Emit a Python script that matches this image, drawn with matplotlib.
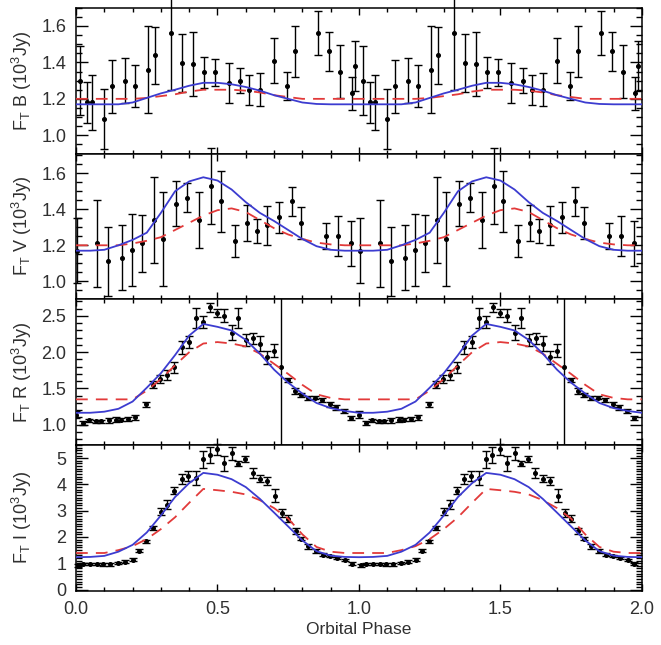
import numpy as np
import matplotlib
matplotlib.use("Agg")
from matplotlib import pyplot as plt
from matplotlib.ticker import MultipleLocator

plt.rcParams['font.family'] = ['Liberation Sans', 'DejaVu Sans']
plt.rcParams['mathtext.fontset'] = 'custom'
plt.rcParams['mathtext.rm'] = 'Liberation Sans'

TEXT = '#303030'
BLUE = '#3c3cd0'
RED = '#e23a3a'

# phase-folded photometry, one orbital cycle (repeated for the second cycle)
b_phase = [0.013, 0.039, 0.057, 0.099, 0.127, 0.174, 0.209, 0.256, 0.280, 0.336,
           0.374, 0.413, 0.451, 0.490, 0.539, 0.580, 0.613, 0.649, 0.700, 0.745,
           0.774, 0.856, 0.895, 0.933, 0.975, 0.987]
b_flux = [1.30, 1.18, 1.18, 1.09, 1.27, 1.30, 1.27, 1.36, 1.44, 1.56,
          1.395, 1.39, 1.345, 1.345, 1.285, 1.30, 1.25, 1.25, 1.41, 1.27,
          1.46, 1.56, 1.46, 1.35, 1.23, 1.38]
b_err = [0.19, 0.115, 0.15, 0.165, 0.145, 0.125, 0.117, 0.24, 0.156, 0.31,
         0.16, 0.176, 0.083, 0.075, 0.11, 0.067, 0.083, 0.09, 0.124, 0.078,
         0.142, 0.12, 0.107, 0.145, 0.09, 0.135]

v_phase = [0.005, 0.073, 0.114, 0.164, 0.197, 0.232, 0.277, 0.309, 0.353, 0.393,
           0.436, 0.477, 0.511, 0.562, 0.606, 0.638, 0.674, 0.718, 0.765, 0.795,
           0.884, 0.925, 0.972]
v_flux = [1.17, 1.21, 1.11, 1.13, 1.175, 1.21, 1.34, 1.235, 1.43, 1.465,
          1.34, 1.53, 1.445, 1.225, 1.325, 1.28, 1.31, 1.355, 1.445, 1.325,
          1.25, 1.25, 1.21]
v_err = [0.18, 0.24, 0.19, 0.18, 0.20, 0.16, 0.24, 0.26, 0.125, 0.08,
         0.155, 0.21, 0.17, 0.09, 0.10, 0.065, 0.11, 0.087, 0.08, 0.09,
         0.072, 0.11, 0.125]

r_phase = [0.000, 0.025, 0.045, 0.070, 0.090, 0.115, 0.140, 0.160, 0.185, 0.210,
           0.247, 0.273, 0.297, 0.323, 0.347, 0.373, 0.400, 0.425, 0.450, 0.474,
           0.500, 0.524, 0.550, 0.574, 0.600, 0.625, 0.650, 0.675, 0.700, 0.725,
           0.750, 0.774, 0.797, 0.820, 0.845, 0.870, 0.897, 0.920, 0.947, 0.972]
r_flux = [1.14, 1.02, 1.06, 1.05, 1.05, 1.06, 1.07, 1.07, 1.08, 1.10,
          1.28, 1.55, 1.63, 1.69, 1.79, 2.07, 2.14, 2.47, 2.42, 2.62,
          2.54, 2.50, 2.27, 2.47, 2.17, 2.19, 2.12, 1.93, 2.02, 1.79,
          1.62, 1.46, 1.41, 1.37, 1.37, 1.34, 1.28, 1.24, 1.19, 1.09]
r_err = [0.05, 0.03, 0.02, 0.02, 0.02, 0.03, 0.03, 0.02, 0.03, 0.04,
         0.04, 0.05, 0.06, 0.07, 0.07, 0.09, 0.08, 0.14, 0.08, 0.06,
         0.05, 0.09, 0.10, 0.14, 0.08, 0.08, 0.10, 0.09, 0.09, 1.50,
         0.03, 0.04, 0.03, 0.03, 0.02, 0.03, 0.03, 0.03, 0.03, 0.03]

i_phase = [0.008, 0.026, 0.050, 0.073, 0.097, 0.120, 0.150, 0.173, 0.200, 0.224,
           0.247, 0.273, 0.299, 0.323, 0.347, 0.373, 0.397, 0.423, 0.448, 0.472,
           0.498, 0.523, 0.550, 0.574, 0.598, 0.624, 0.650, 0.676, 0.703, 0.727,
           0.750, 0.776, 0.797, 0.820, 0.848, 0.874, 0.897, 0.923, 0.950, 0.974]
i_flux = [0.93, 0.96, 0.98, 0.98, 0.96, 0.96, 1.02, 1.06, 1.14, 1.48,
          1.83, 2.35, 2.97, 3.22, 3.76, 4.19, 4.34, 4.25, 4.96, 5.12,
          5.34, 4.81, 5.19, 4.79, 4.96, 4.44, 4.22, 4.13, 3.57, 2.92,
          2.70, 2.23, 1.93, 1.64, 1.46, 1.33, 1.27, 1.21, 1.11, 0.98]
i_err = [0.06, 0.04, 0.04, 0.04, 0.05, 0.05, 0.04, 0.05, 0.06, 0.07,
         0.07, 0.08, 0.12, 0.17, 0.14, 0.19, 0.19, 0.28, 0.32, 0.30,
         0.20, 0.28, 0.25, 0.10, 0.11, 0.20, 0.13, 0.17, 0.24, 0.15,
         0.12, 0.12, 0.06, 0.08, 0.07, 0.05, 0.04, 0.04, 0.04, 0.05]

# model light curves sampled over one cycle
model_phase = [0.00, 0.05, 0.10, 0.15, 0.20, 0.25, 0.30, 0.35, 0.40, 0.45,
               0.50, 0.55, 0.60, 0.65, 0.70, 0.75, 0.80, 0.85, 0.90, 0.95]
b_model_blue = [1.17, 1.17, 1.17, 1.17, 1.18, 1.205, 1.23, 1.25, 1.272, 1.288,
                1.288, 1.28, 1.265, 1.245, 1.22, 1.20, 1.18, 1.172, 1.17, 1.17]
b_model_red = [1.20, 1.20, 1.20, 1.20, 1.20, 1.205, 1.215, 1.225, 1.24, 1.25,
               1.25, 1.25, 1.245, 1.235, 1.22, 1.21, 1.20, 1.20, 1.20, 1.20]
v_model_blue = [1.17, 1.17, 1.175, 1.20, 1.23, 1.27, 1.38, 1.50, 1.555, 1.578,
                1.56, 1.51, 1.44, 1.38, 1.335, 1.285, 1.235, 1.195, 1.175, 1.17]
v_model_red = [1.20, 1.20, 1.20, 1.20, 1.21, 1.225, 1.245, 1.285, 1.325, 1.365,
               1.395, 1.405, 1.385, 1.34, 1.295, 1.26, 1.235, 1.215, 1.205, 1.20]
r_model_blue = [1.165, 1.165, 1.18, 1.22, 1.32, 1.51, 1.71, 1.96, 2.23, 2.39,
                2.35, 2.30, 2.17, 1.98, 1.76, 1.58, 1.43, 1.30, 1.23, 1.19]
r_model_red = [1.35, 1.35, 1.35, 1.35, 1.35, 1.47, 1.63, 1.82, 2.00, 2.12,
               2.14, 2.12, 2.08, 1.98, 1.84, 1.70, 1.55, 1.42, 1.37, 1.35]
i_model_blue = [1.23, 1.24, 1.28, 1.44, 1.70, 2.17, 2.82, 3.52, 4.05, 4.44,
                4.37, 4.20, 3.90, 3.45, 2.93, 2.40, 1.87, 1.46, 1.29, 1.24]
i_model_red = [1.39, 1.39, 1.39, 1.50, 1.65, 1.92, 2.30, 2.75, 3.30, 3.83,
               3.78, 3.72, 3.62, 3.40, 3.10, 2.70, 2.10, 1.62, 1.44, 1.39]


def two_cycles(phase, values):
    phase = np.asarray(phase)
    values = np.asarray(values)
    return np.concatenate([phase, phase + 1]), np.concatenate([values, values])


def model_curve(values):
    x, y = two_cycles(model_phase, values)
    # close the curve at phase 2.0
    return np.append(x, 2.0), np.append(y, values[0])


def draw_panel(ax, phase, flux, err, blue, red, clip=False):
    x, y = two_cycles(phase, flux)
    _, e = two_cycles(phase, err)
    eb = ax.errorbar(x, y, yerr=e, fmt='o', ms=2.6, color='black', ecolor='black',
                     elinewidth=1.0, capsize=2.6, capthick=1.0, zorder=2)
    for art in eb.lines[0:1] + tuple(eb.lines[1]) + tuple(eb.lines[2]):
        art.set_clip_on(clip)
    mx, my = model_curve(red)
    ax.plot(mx, my, color=RED, lw=1.3, dashes=(6.5, 4.5), zorder=3)
    mx, my = model_curve(blue)
    ax.plot(mx, my, color=BLUE, lw=1.3, zorder=4)


fig, axes = plt.subplots(4, 1, sharex=True, figsize=(6.61, 6.45), dpi=100)
fig.subplots_adjust(left=0.115, right=0.971, bottom=0.084, top=0.988, hspace=0)

panels = [
    (b_phase, b_flux, b_err, b_model_blue, b_model_red, 'B', (0.9, 1.7), 0.2, 0.05, False),
    (v_phase, v_flux, v_err, v_model_blue, v_model_red, 'V', (0.9, 1.71), 0.2, 0.05, False),
    (r_phase, r_flux, r_err, r_model_blue, r_model_red, 'R', (0.72, 2.73), 0.5, 0.1, True),
    (i_phase, i_flux, i_err, i_model_blue, i_model_red, 'I', (-0.05, 5.5), 1.0, 0.1, False),
]

for ax, (ph, fl, er, blue, red, band, ylim, major, minor, clip) in zip(axes, panels):
    draw_panel(ax, ph, fl, er, blue, red, clip=clip)
    ax.set_ylim(*ylim)
    ax.yaxis.set_major_locator(MultipleLocator(major))
    ax.yaxis.set_minor_locator(MultipleLocator(minor))
    if major < 1:
        ax.yaxis.set_major_formatter(plt.FormatStrFormatter('%.1f'))
    else:
        ax.yaxis.set_major_formatter(plt.FormatStrFormatter('%d'))
    ax.set_ylabel(r'F$_\mathregular{T}$ ' + band + r' (10$^\mathregular{3}$Jy)',
                  fontsize=13, color=TEXT)
    ax.yaxis.set_label_coords(-0.075, 0.5)
    ax.tick_params(which='both', direction='in', top=True, right=True,
                   labelsize=13, labelcolor=TEXT, width=1.0)
    ax.tick_params(axis='y', which='major', length=8.5, pad=7)
    ax.tick_params(axis='y', which='minor', length=4.5)
    ax.tick_params(axis='x', which='major', length=5, pad=7)
    ax.tick_params(axis='x', which='minor', length=2.8)
    for sp in ax.spines.values():
        sp.set_linewidth(1.1)

axes[-1].set_xlim(0, 2)
axes[-1].xaxis.set_major_locator(MultipleLocator(0.5))
axes[-1].xaxis.set_minor_locator(MultipleLocator(0.1))
axes[-1].xaxis.set_major_formatter(plt.FormatStrFormatter('%.1f'))
axes[-1].set_xlabel('Orbital Phase', fontsize=12.5, color=TEXT, labelpad=3)

fig.savefig('out.png', dpi=100)
